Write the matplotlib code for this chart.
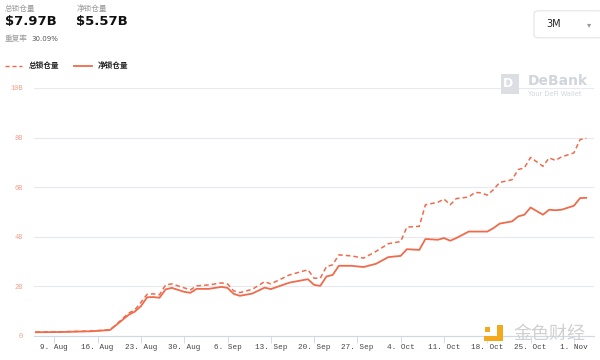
import numpy as np
import pandas as pd
import matplotlib
matplotlib.use("Agg")
import matplotlib.pyplot as plt
import matplotlib.dates as mdates
from matplotlib.patches import Rectangle, FancyBboxPatch

# Data (values in billions USD)
dates = ["2021-08-06", "2021-08-10", "2021-08-15", "2021-08-18", "2021-08-19",
         "2021-08-21", "2021-08-22", "2021-08-23", "2021-08-24", "2021-08-25",
         "2021-08-26", "2021-08-27", "2021-08-28", "2021-08-30", "2021-08-31",
         "2021-09-01", "2021-09-03", "2021-09-05", "2021-09-06", "2021-09-07",
         "2021-09-08", "2021-09-10", "2021-09-12", "2021-09-13", "2021-09-16",
         "2021-09-19", "2021-09-20", "2021-09-21", "2021-09-22", "2021-09-23",
         "2021-09-24", "2021-09-26", "2021-09-28", "2021-09-30", "2021-10-02",
         "2021-10-04", "2021-10-05", "2021-10-07", "2021-10-08", "2021-10-10",
         "2021-10-11", "2021-10-12", "2021-10-13", "2021-10-15", "2021-10-16",
         "2021-10-17", "2021-10-18", "2021-10-19", "2021-10-20", "2021-10-22",
         "2021-10-23", "2021-10-24", "2021-10-25", "2021-10-27", "2021-10-28",
         "2021-10-29", "2021-10-30", "2021-11-01", "2021-11-02", "2021-11-03"]
total_tvl = [0.16, 0.17, 0.20, 0.25, 0.46, 0.92, 1.05, 1.35, 1.68, 1.70,
             1.66, 2.06, 2.10, 1.94, 1.86, 2.02, 2.06, 2.14, 2.10, 1.82,
             1.75, 1.88, 2.19, 2.10, 2.46, 2.67, 2.33, 2.33, 2.80, 2.87,
             3.27, 3.23, 3.14, 3.41, 3.72, 3.81, 4.39, 4.42, 5.29, 5.39,
             5.52, 5.29, 5.54, 5.60, 5.79, 5.77, 5.68, 5.90, 6.19, 6.30,
             6.71, 6.78, 7.20, 6.84, 7.18, 7.08, 7.22, 7.38, 7.92, 7.97]
net_tvl = [0.15, 0.16, 0.19, 0.24, 0.44, 0.85, 0.98, 1.20, 1.56, 1.57,
           1.54, 1.88, 1.94, 1.78, 1.74, 1.90, 1.90, 1.98, 1.94, 1.70,
           1.62, 1.71, 1.95, 1.89, 2.15, 2.29, 2.06, 2.02, 2.40, 2.46,
           2.83, 2.83, 2.78, 2.91, 3.18, 3.23, 3.50, 3.47, 3.91, 3.88,
           3.95, 3.84, 3.95, 4.21, 4.21, 4.21, 4.21, 4.35, 4.53, 4.62,
           4.82, 4.89, 5.18, 4.89, 5.09, 5.07, 5.09, 5.25, 5.56, 5.57]
y_ticks = [0, 2, 4, 6, 8, 10]
y_labels = ["0", "2B", "4B", "6B", "8B", "10B"]

cjk = ["Noto Sans CJK SC", "DejaVu Sans"]
line_c = "#ef6b4b"

x = pd.to_datetime(dates)

fig = plt.figure(figsize=(6, 3.6), dpi=100)
fig.patch.set_facecolor("white")
ax = fig.add_axes([0.057, 0.0667, 0.933, 0.689])

ax.plot(x, total_tvl, color=line_c, lw=1.1, ls=(0, (3, 2)))
ax.plot(x, net_tvl, color=line_c, lw=1.3)

ax.set_ylim(0, 10)
ax.set_xlim(pd.Timestamp("2021-08-05 18:00"), pd.Timestamp("2021-11-04 06:00"))
ax.set_yticks(y_ticks)
ax.set_yticklabels(y_labels, family="Liberation Mono", fontsize=5, color="#f2a08c")
ax.yaxis.grid(True, color="#e6e9f0", lw=0.8)
ax.set_axisbelow(True)
ax.tick_params(axis="y", length=0, pad=8)

ticks = pd.date_range("2021-08-09", "2021-11-01", freq="7D")
ax.set_xticks(ticks)
ax.set_xticklabels([t.strftime("%-d. %b") for t in ticks], family="Liberation Mono",
                   fontsize=5.5, color="#444444")
ax.tick_params(axis="x", length=5, width=0.6, color="#cfd6e4", pad=1)

for s in ["top", "right", "left"]:
    ax.spines[s].set_visible(False)
ax.spines["bottom"].set_color("#cfd6e4")
ax.spines["bottom"].set_linewidth(0.8)

# header
fig.text(0.008, 0.985, "总锁仓量", family=cjk, fontsize=5.5, color="#9a9a9a", va="top")
fig.text(0.008, 0.958, "$7.97B", fontsize=9.5, fontweight="bold", color="#111111", va="top")
fig.text(0.127, 0.985, "净锁仓量", family=cjk, fontsize=5.5, color="#9a9a9a", va="top")
fig.text(0.127, 0.958, "$5.57B", fontsize=9.5, fontweight="bold", color="#111111", va="top")
fig.text(0.008, 0.892, "重复率", family=cjk, fontsize=5.5, color="#9a9a9a", va="center")
fig.text(0.053, 0.892, "30.09%", fontsize=5, color="#555555", va="center")

# legend
fig.add_artist(plt.Line2D([0.008, 0.037], [0.817, 0.817], color=line_c, lw=1, ls=(0, (3, 2))))
fig.text(0.048, 0.817, "总锁仓量", family=cjk, fontsize=5.5, fontweight="bold", color="#222222", va="center")
fig.add_artist(plt.Line2D([0.123, 0.153], [0.817, 0.817], color=line_c, lw=1.3))
fig.text(0.163, 0.817, "净锁仓量", family=cjk, fontsize=5.5, fontweight="bold", color="#222222", va="center")

# period selector
fig.add_artist(FancyBboxPatch((0.89, 0.895), 0.115, 0.075, boxstyle="round,pad=0,rounding_size=0.008",
                              transform=fig.transFigure, fc="white", ec="#e4e4e4", lw=0.8))
fig.text(0.91, 0.933, "3M", fontsize=7, color="#222222", va="center")
fig.text(0.978, 0.933, "▾", fontsize=6, color="#999999", va="center")

# DeBank watermark
fig.add_artist(Rectangle((0.835, 0.74), 0.03, 0.055, transform=fig.transFigure, fc="#dcdee3", ec="none"))
fig.text(0.838, 0.768, "D", fontsize=9, fontweight="bold", color="white", va="center")
fig.text(0.88, 0.775, "DeBank", fontsize=10, fontweight="bold", color="#d2d5dc", va="center")
fig.text(0.88, 0.74, "Your DeFi Wallet", fontsize=4.8, color="#d2d5dc", va="center")

# Jinse watermark
oc = "#f2a91c"
fig.add_artist(Rectangle((0.806, 0.053), 0.033, 0.014, transform=fig.transFigure, fc=oc, ec="none"))
fig.add_artist(Rectangle((0.828, 0.053), 0.011, 0.045, transform=fig.transFigure, fc=oc, ec="none"))
fig.add_artist(Rectangle((0.808, 0.077), 0.009, 0.014, transform=fig.transFigure, fc=oc, ec="none"))
fig.text(0.855, 0.072, "金色财经", family=cjk, fontsize=13, color="#d0d0d0", va="center")

fig.savefig("out.png", dpi=100)
